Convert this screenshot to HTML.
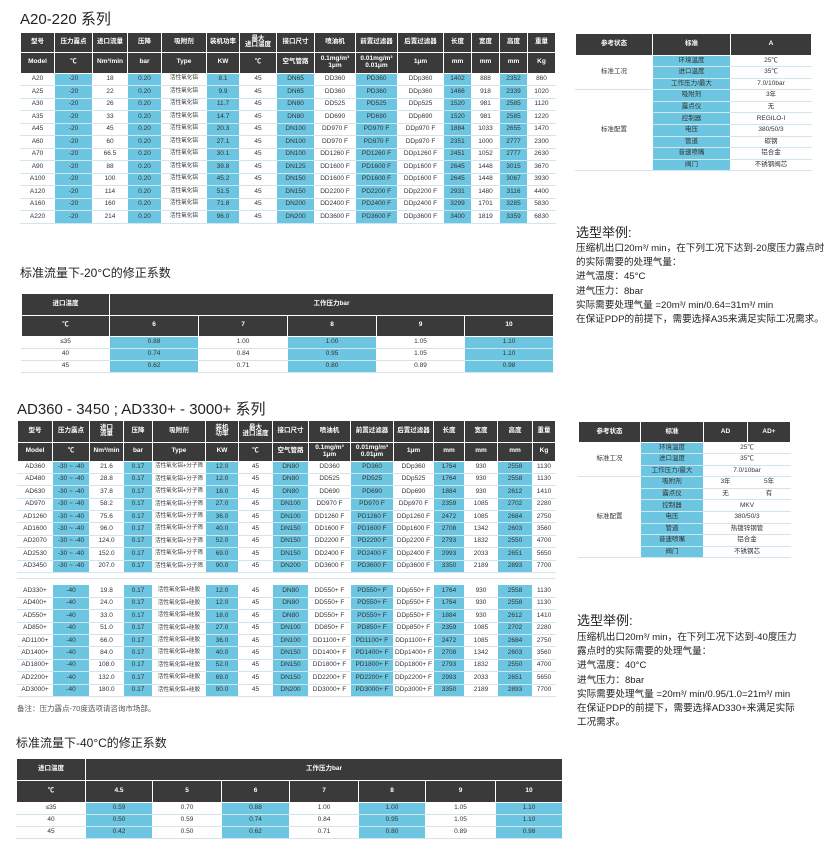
<!DOCTYPE html>
<html><head><meta charset="utf-8">
<style>
body{margin:0;width:832px;height:861px;background:#fff;position:relative;overflow:hidden;font-family:"Liberation Sans","Noto Sans CJK SC",sans-serif;color:#333}
.t{position:absolute;border-collapse:collapse;table-layout:fixed;font-size:6.5px;text-align:center;line-height:1}
.t th{background:#3a3a3a;color:#fff;border:1px solid #fff;border-top:0;padding:0;font-weight:bold;overflow:hidden;white-space:nowrap}
.t td{border-bottom:1px solid #d2e5ec;border-left:1px solid #fff;border-right:1px solid #fff;padding:0;white-space:nowrap;overflow:hidden}
.c{background:#6cc6e1}
.d td:nth-child(2n){background:#6cc6e1}
.d td:nth-child(5){font-size:5.6px}
.h{position:absolute;margin:0;font-weight:normal;color:#222}
.p{position:absolute;font-size:9.6px;line-height:14.2px;color:#222;white-space:nowrap}
</style></head><body>

<div class="h" style="left:20px;top:8px;font-size:15px">A20-220 系列</div>

<table class="t d" style="left:20px;top:33px;width:535px">
<colgroup><col style="width:34px"><col style="width:38px"><col style="width:35px"><col style="width:34px"><col style="width:45px"><col style="width:33px"><col style="width:37px"><col style="width:38px"><col style="width:41px"><col style="width:42px"><col style="width:46px"><col style="width:28px"><col style="width:28px"><col style="width:28px"><col style="width:28px"></colgroup>
<tr style="height:19px"><th>型号</th><th>压力露点</th><th>进口流量</th><th>压降</th><th>吸附剂</th><th>装机功率</th><th>最大<br>进口温度</th><th>接口尺寸</th><th>喷油机</th><th>前置过滤器</th><th>后置过滤器</th><th>长度</th><th>宽度</th><th>高度</th><th>重量</th></tr>
<tr style="height:21px"><th>Model</th><th>℃</th><th>Nm³/min</th><th>bar</th><th>Type</th><th>KW</th><th>℃</th><th>空气管路</th><th>0.1mg/m³<br>1μm</th><th>0.01mg/m³<br>0.01μm</th><th>1μm</th><th>mm</th><th>mm</th><th>mm</th><th>Kg</th></tr>
<tr style="height:12.5px"><td>A20</td><td>-20</td><td>18</td><td>0.20</td><td>活性氧化铝</td><td>8.1</td><td>45</td><td>DN65</td><td>DD360</td><td>PD360</td><td>DDp360</td><td>1402</td><td>888</td><td>2352</td><td>860</td></tr>
<tr style="height:12.5px"><td>A25</td><td>-20</td><td>22</td><td>0.20</td><td>活性氧化铝</td><td>9.9</td><td>45</td><td>DN65</td><td>DD360</td><td>PD360</td><td>DDp360</td><td>1466</td><td>918</td><td>2339</td><td>1020</td></tr>
<tr style="height:12.5px"><td>A30</td><td>-20</td><td>26</td><td>0.20</td><td>活性氧化铝</td><td>11.7</td><td>45</td><td>DN80</td><td>DD525</td><td>PD525</td><td>DDp525</td><td>1520</td><td>981</td><td>2585</td><td>1120</td></tr>
<tr style="height:12.5px"><td>A35</td><td>-20</td><td>33</td><td>0.20</td><td>活性氧化铝</td><td>14.7</td><td>45</td><td>DN80</td><td>DD690</td><td>PD690</td><td>DDp690</td><td>1520</td><td>981</td><td>2585</td><td>1220</td></tr>
<tr style="height:12.5px"><td>A45</td><td>-20</td><td>45</td><td>0.20</td><td>活性氧化铝</td><td>20.3</td><td>45</td><td>DN100</td><td>DD970 F</td><td>PD970 F</td><td>DDp970 F</td><td>1884</td><td>1033</td><td>2655</td><td>1470</td></tr>
<tr style="height:12.5px"><td>A60</td><td>-20</td><td>60</td><td>0.20</td><td>活性氧化铝</td><td>27.1</td><td>45</td><td>DN100</td><td>DD970 F</td><td>PD970 F</td><td>DDp970 F</td><td>2351</td><td>1000</td><td>2777</td><td>2300</td></tr>
<tr style="height:12.5px"><td>A70</td><td>-20</td><td>66.5</td><td>0.20</td><td>活性氧化铝</td><td>30.1</td><td>45</td><td>DN100</td><td>DD1260 F</td><td>PD1260 F</td><td>DDp1260 F</td><td>2451</td><td>1052</td><td>2777</td><td>2630</td></tr>
<tr style="height:12.5px"><td>A90</td><td>-20</td><td>88</td><td>0.20</td><td>活性氧化铝</td><td>39.8</td><td>45</td><td>DN125</td><td>DD1600 F</td><td>PD1600 F</td><td>DDp1600 F</td><td>2645</td><td>1448</td><td>3015</td><td>3670</td></tr>
<tr style="height:12.5px"><td>A100</td><td>-20</td><td>100</td><td>0.20</td><td>活性氧化铝</td><td>45.2</td><td>45</td><td>DN150</td><td>DD1600 F</td><td>PD1600 F</td><td>DDp1600 F</td><td>2645</td><td>1448</td><td>3067</td><td>3930</td></tr>
<tr style="height:12.5px"><td>A120</td><td>-20</td><td>114</td><td>0.20</td><td>活性氧化铝</td><td>51.5</td><td>45</td><td>DN150</td><td>DD2200 F</td><td>PD2200 F</td><td>DDp2200 F</td><td>2931</td><td>1480</td><td>3116</td><td>4400</td></tr>
<tr style="height:12.5px"><td>A160</td><td>-20</td><td>160</td><td>0.20</td><td>活性氧化铝</td><td>71.8</td><td>45</td><td>DN200</td><td>DD2400 F</td><td>PD2400 F</td><td>DDp2400 F</td><td>3299</td><td>1701</td><td>3285</td><td>5830</td></tr>
<tr style="height:12.5px"><td>A220</td><td>-20</td><td>214</td><td>0.20</td><td>活性氧化铝</td><td>96.0</td><td>45</td><td>DN200</td><td>DD3600 F</td><td>PD3600 F</td><td>DDp3600 F</td><td>3400</td><td>1819</td><td>3359</td><td>6830</td></tr>
</table>

<table class="t" style="left:575px;top:34px;width:236px">
<colgroup><col style="width:77px"><col style="width:78px"><col style="width:81px"></colgroup>
<tr style="height:21px"><th>参考状态</th><th>标准</th><th>A</th></tr>
<tr style="height:11.6px"><td rowspan="3">标准工况</td><td class="c">环境温度</td><td>25℃</td></tr>
<tr style="height:11.6px"><td class="c">进口温度</td><td>35℃</td></tr>
<tr style="height:11.6px"><td class="c">工作压力/最大</td><td>7.0/10bar</td></tr>
<tr style="height:11.6px"><td rowspan="8">标准配置</td><td class="c">吸附剂</td><td>3年</td></tr>
<tr style="height:11.6px"><td class="c">露点仪</td><td>无</td></tr>
<tr style="height:11.6px"><td class="c">控制器</td><td>REGILO-I</td></tr>
<tr style="height:11.6px"><td class="c">电压</td><td>380/50/3</td></tr>
<tr style="height:11.6px"><td class="c">管道</td><td>碳钢</td></tr>
<tr style="height:11.6px"><td class="c">音速喷嘴</td><td>铝合金</td></tr>
<tr style="height:11.6px"><td class="c">阀门</td><td>不锈钢阀芯</td></tr>
</table>

<div class="h" style="left:576px;top:222px;font-size:13px">选型举例:</div>
<div class="p" style="left:576px;top:242px">压缩机出口20m³/ min，在下列工况下达到-20度压力露点时<br>的实际需要的处理气量：<br>进气温度：45°C<br>进气压力：8bar<br>实际需要处理气量 =20m³/ min/0.64=31m³/ min<br>在保证PDP的前提下，需要选择A35来满足实际工况需求。</div>

<div class="h" style="left:20px;top:264px;font-size:12px">标准流量下-20°C的修正系数</div>
<table class="t" style="left:21px;top:294px;width:532px">
<colgroup><col style="width:88px"><col style="width:89px"><col style="width:89px"><col style="width:89px"><col style="width:88px"><col style="width:89px"></colgroup>
<tr style="height:21px"><th>进口温度</th><th colspan="5">工作压力bar</th></tr>
<tr style="height:21px"><th>℃</th><th>6</th><th>7</th><th>8</th><th>9</th><th>10</th></tr>
<tr style="height:12px"><td>≤35</td><td class="c">0.88</td><td>1.00</td><td class="c">1.00</td><td>1.05</td><td class="c">1.10</td></tr>
<tr style="height:12px"><td>40</td><td class="c">0.74</td><td>0.84</td><td class="c">0.95</td><td>1.05</td><td class="c">1.10</td></tr>
<tr style="height:12px"><td>45</td><td class="c">0.62</td><td>0.71</td><td class="c">0.80</td><td>0.89</td><td class="c">0.98</td></tr>
</table>

<div class="h" style="left:17px;top:398px;font-size:15px">AD360 - 3450 ; AD330+ - 3000+ 系列</div>

<table class="t d" style="left:17px;top:421px;width:538px">
<colgroup><col style="width:35px"><col style="width:37px"><col style="width:34px"><col style="width:29px"><col style="width:53px"><col style="width:33px"><col style="width:34px"><col style="width:36px"><col style="width:42px"><col style="width:43px"><col style="width:40px"><col style="width:31px"><col style="width:33px"><col style="width:35px"><col style="width:23px"></colgroup>
<tr style="height:21px"><th>型号</th><th>压力露点</th><th>进口<br>流量</th><th>压降</th><th>吸附剂</th><th>装机<br>功率</th><th>最大<br>进口温度</th><th>接口尺寸</th><th>喷油机</th><th>前置过滤器</th><th>后置过滤器</th><th>长度</th><th>宽度</th><th>高度</th><th>重量</th></tr>
<tr style="height:19px"><th>Model</th><th>℃</th><th>Nm³/min</th><th>bar</th><th>Type</th><th>KW</th><th>℃</th><th>空气管路</th><th>0.1mg/m³<br>1μm</th><th>0.01mg/m³<br>0.01μm</th><th>1μm</th><th>mm</th><th>mm</th><th>mm</th><th>Kg</th></tr>
<tr style="height:12.4px"><td>AD360</td><td>-30 ~ -40</td><td>21.6</td><td>0.17</td><td>活性氧化铝+分子筛</td><td>12.0</td><td>45</td><td>DN80</td><td>DD360</td><td>PD360</td><td>DDp360</td><td>1764</td><td>930</td><td>2558</td><td>1130</td></tr>
<tr style="height:12.4px"><td>AD480</td><td>-30 ~ -40</td><td>28.8</td><td>0.17</td><td>活性氧化铝+分子筛</td><td>12.0</td><td>45</td><td>DN80</td><td>DD525</td><td>PD525</td><td>DDp525</td><td>1764</td><td>930</td><td>2558</td><td>1130</td></tr>
<tr style="height:12.4px"><td>AD630</td><td>-30 ~ -40</td><td>37.8</td><td>0.17</td><td>活性氧化铝+分子筛</td><td>18.0</td><td>45</td><td>DN80</td><td>DD690</td><td>PD690</td><td>DDp690</td><td>1884</td><td>930</td><td>2612</td><td>1410</td></tr>
<tr style="height:12.4px"><td>AD970</td><td>-30 ~ -40</td><td>58.2</td><td>0.17</td><td>活性氧化铝+分子筛</td><td>27.0</td><td>45</td><td>DN100</td><td>DD970 F</td><td>PD970 F</td><td>DDp970 F</td><td>2359</td><td>1085</td><td>2702</td><td>2280</td></tr>
<tr style="height:12.4px"><td>AD1260</td><td>-30 ~ -40</td><td>75.6</td><td>0.17</td><td>活性氧化铝+分子筛</td><td>36.0</td><td>45</td><td>DN100</td><td>DD1260 F</td><td>PD1260 F</td><td>DDp1260 F</td><td>2472</td><td>1085</td><td>2684</td><td>2750</td></tr>
<tr style="height:12.4px"><td>AD1600</td><td>-30 ~ -40</td><td>96.0</td><td>0.17</td><td>活性氧化铝+分子筛</td><td>40.0</td><td>45</td><td>DN150</td><td>DD1600 F</td><td>PD1600 F</td><td>DDp1600 F</td><td>2708</td><td>1342</td><td>2603</td><td>3560</td></tr>
<tr style="height:12.4px"><td>AD2070</td><td>-30 ~ -40</td><td>124.0</td><td>0.17</td><td>活性氧化铝+分子筛</td><td>52.0</td><td>45</td><td>DN150</td><td>DD2200 F</td><td>PD2200 F</td><td>DDp2200 F</td><td>2793</td><td>1832</td><td>2550</td><td>4700</td></tr>
<tr style="height:12.4px"><td>AD2530</td><td>-30 ~ -40</td><td>152.0</td><td>0.17</td><td>活性氧化铝+分子筛</td><td>69.0</td><td>45</td><td>DN150</td><td>DD2400 F</td><td>PD2400 F</td><td>DDp2400 F</td><td>2993</td><td>2033</td><td>2651</td><td>5650</td></tr>
<tr style="height:12.4px"><td>AD3450</td><td>-30 ~ -40</td><td>207.0</td><td>0.17</td><td>活性氧化铝+分子筛</td><td>90.0</td><td>45</td><td>DN200</td><td>DD3600 F</td><td>PD3600 F</td><td>DDp3600 F</td><td>3350</td><td>2189</td><td>2893</td><td>7700</td></tr>
</table>

<table class="t d" style="left:17px;top:585px;width:538px">
<colgroup><col style="width:35px"><col style="width:37px"><col style="width:34px"><col style="width:29px"><col style="width:53px"><col style="width:33px"><col style="width:34px"><col style="width:36px"><col style="width:42px"><col style="width:43px"><col style="width:40px"><col style="width:31px"><col style="width:33px"><col style="width:35px"><col style="width:23px"></colgroup>
<tr style="height:12.4px"><td>AD330+</td><td>-40</td><td>19.8</td><td>0.17</td><td>活性氧化铝+硅胶</td><td>12.0</td><td>45</td><td>DN80</td><td>DD550+ F</td><td>PD550+ F</td><td>DDp550+ F</td><td>1764</td><td>930</td><td>2558</td><td>1130</td></tr>
<tr style="height:12.4px"><td>AD400+</td><td>-40</td><td>24.0</td><td>0.17</td><td>活性氧化铝+硅胶</td><td>12.0</td><td>45</td><td>DN80</td><td>DD550+ F</td><td>PD550+ F</td><td>DDp550+ F</td><td>1764</td><td>930</td><td>2558</td><td>1130</td></tr>
<tr style="height:12.4px"><td>AD550+</td><td>-40</td><td>33.0</td><td>0.17</td><td>活性氧化铝+硅胶</td><td>18.0</td><td>45</td><td>DN80</td><td>DD550+ F</td><td>PD550+ F</td><td>DDp550+ F</td><td>1884</td><td>930</td><td>2612</td><td>1410</td></tr>
<tr style="height:12.4px"><td>AD850+</td><td>-40</td><td>51.0</td><td>0.17</td><td>活性氧化铝+硅胶</td><td>27.0</td><td>45</td><td>DN100</td><td>DD850+ F</td><td>PD850+ F</td><td>DDp850+ F</td><td>2359</td><td>1085</td><td>2702</td><td>2280</td></tr>
<tr style="height:12.4px"><td>AD1100+</td><td>-40</td><td>66.0</td><td>0.17</td><td>活性氧化铝+硅胶</td><td>36.0</td><td>45</td><td>DN100</td><td>DD1100+ F</td><td>PD1100+ F</td><td>DDp1100+ F</td><td>2472</td><td>1085</td><td>2684</td><td>2750</td></tr>
<tr style="height:12.4px"><td>AD1400+</td><td>-40</td><td>84.0</td><td>0.17</td><td>活性氧化铝+硅胶</td><td>40.0</td><td>45</td><td>DN150</td><td>DD1400+ F</td><td>PD1400+ F</td><td>DDp1400+ F</td><td>2708</td><td>1342</td><td>2603</td><td>3560</td></tr>
<tr style="height:12.4px"><td>AD1800+</td><td>-40</td><td>108.0</td><td>0.17</td><td>活性氧化铝+硅胶</td><td>52.0</td><td>45</td><td>DN150</td><td>DD1800+ F</td><td>PD1800+ F</td><td>DDp1800+ F</td><td>2793</td><td>1832</td><td>2550</td><td>4700</td></tr>
<tr style="height:12.4px"><td>AD2200+</td><td>-40</td><td>132.0</td><td>0.17</td><td>活性氧化铝+硅胶</td><td>69.0</td><td>45</td><td>DN150</td><td>DD2200+ F</td><td>PD2200+ F</td><td>DDp2200+ F</td><td>2993</td><td>2033</td><td>2651</td><td>5650</td></tr>
<tr style="height:12.4px"><td>AD3000+</td><td>-40</td><td>180.0</td><td>0.17</td><td>活性氧化铝+硅胶</td><td>90.0</td><td>45</td><td>DN200</td><td>DD3000+ F</td><td>PD3000+ F</td><td>DDp3000+ F</td><td>3350</td><td>2189</td><td>2893</td><td>7700</td></tr>
</table>
<div style="position:absolute;left:17px;top:578px;width:538px;border-top:1px solid #d2e5ec"></div>
<div style="position:absolute;left:17px;top:703px;font-size:7.5px;color:#555">备注：压力露点-70度选项请咨询市场部。</div>

<table class="t" style="left:578px;top:422px;width:212px">
<colgroup><col style="width:62px"><col style="width:63px"><col style="width:44px"><col style="width:43px"></colgroup>
<tr style="height:20px"><th>参考状态</th><th>标准</th><th>AD</th><th>AD+</th></tr>
<tr style="height:11.6px"><td rowspan="3">标准工况</td><td class="c">环境温度</td><td colspan="2">25℃</td></tr>
<tr style="height:11.6px"><td class="c">进口温度</td><td colspan="2">35℃</td></tr>
<tr style="height:11.6px"><td class="c">工作压力/最大</td><td colspan="2">7.0/10bar</td></tr>
<tr style="height:11.6px"><td rowspan="8">标准配置</td><td class="c">吸附剂</td><td>3年</td><td>5年</td></tr>
<tr style="height:11.6px"><td class="c">露点仪</td><td>无</td><td>有</td></tr>
<tr style="height:11.6px"><td class="c">控制器</td><td colspan="2">MKV</td></tr>
<tr style="height:11.6px"><td class="c">电压</td><td colspan="2">380/50/3</td></tr>
<tr style="height:11.6px"><td class="c">管道</td><td colspan="2">热镀锌钢管</td></tr>
<tr style="height:11.6px"><td class="c">音速喷嘴</td><td colspan="2">铝合金</td></tr>
<tr style="height:11.6px"><td class="c">阀门</td><td colspan="2">不锈钢芯</td></tr>
</table>

<div class="h" style="left:577px;top:610px;font-size:13px">选型举例:</div>
<div class="p" style="left:577px;top:631px">压缩机出口20m³/ min，在下列工况下达到-40度压力<br>露点时的实际需要的处理气量：<br>进气温度：40°C<br>进气压力：8bar<br>实际需要处理气量 =20m³/ min/0.95/1.0=21m³/ min<br>在保证PDP的前提下，需要选择AD330+来满足实际<br>工况需求。</div>

<div class="h" style="left:16px;top:734px;font-size:12px">标准流量下-40°C的修正系数</div>
<table class="t" style="left:16px;top:759px;width:546px">
<colgroup><col style="width:69px"><col style="width:67px"><col style="width:69px"><col style="width:68px"><col style="width:69px"><col style="width:67px"><col style="width:70px"><col style="width:67px"></colgroup>
<tr style="height:21px"><th>进口温度</th><th colspan="7">工作压力bar</th></tr>
<tr style="height:22px"><th>℃</th><th>4.5</th><th>5</th><th>6</th><th>7</th><th>8</th><th>9</th><th>10</th></tr>
<tr style="height:12px"><td>≤35</td><td class="c">0.59</td><td>0.70</td><td class="c">0.88</td><td>1.00</td><td class="c">1.00</td><td>1.05</td><td class="c">1.10</td></tr>
<tr style="height:12px"><td>40</td><td class="c">0.50</td><td>0.59</td><td class="c">0.74</td><td>0.84</td><td class="c">0.95</td><td>1.05</td><td class="c">1.10</td></tr>
<tr style="height:12px"><td>45</td><td class="c">0.42</td><td>0.50</td><td class="c">0.62</td><td>0.71</td><td class="c">0.80</td><td>0.89</td><td class="c">0.98</td></tr>
</table>
</body></html>
